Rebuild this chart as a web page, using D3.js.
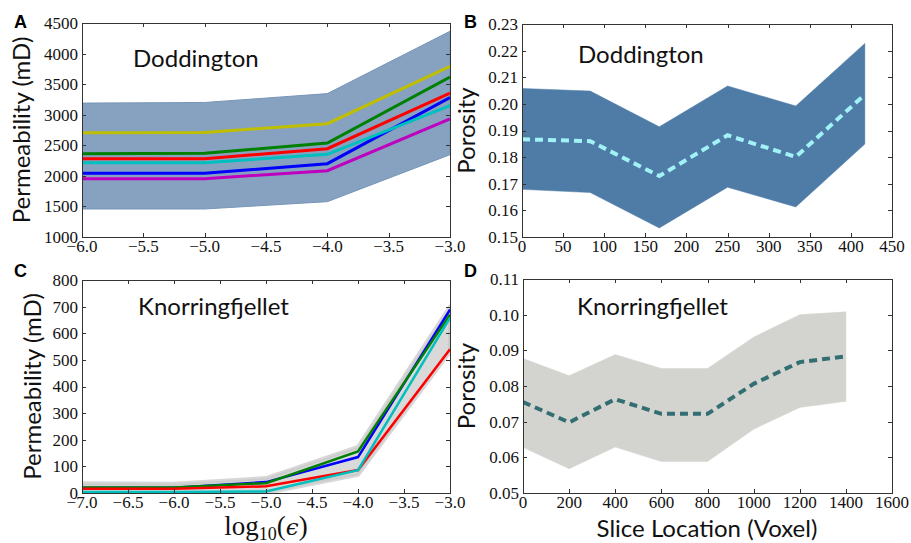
<!DOCTYPE html>
<html>
<head>
<meta charset="utf-8">
<script src="https://cdn.jsdelivr.net/npm/d3@7"></script>
<style>
  html, body { margin: 0; padding: 0; background: #fff; }
  svg { display: block; }
</style>
</head>
<body>
<svg id="chart" width="911" height="543"></svg>
<script>
// ---------- DATA ----------
// Panel A: Doddington permeability vs log10(eps)
const epsDodd = [-6, -5, -4, -3];
const doddUpper   = [3190, 3200, 3345, 4365];
const doddLower   = [1458, 1458, 1578, 2346];
const doddBlue    = [2041, 2041, 2199, 3279];
const doddGreen   = [2363, 2368, 2537, 3617];
const doddRed     = [2281, 2281, 2444, 3355];
const doddCyan    = [2215, 2215, 2352, 3148];
const doddMagenta = [1954, 1954, 2085, 2930];
const doddYellow  = [2706, 2711, 2853, 3791];

// Panel B: Doddington porosity vs slice
const sliceDodd    = [0, 83, 167, 250, 333, 417];
const porDoddMean  = [0.1867, 0.1860, 0.1729, 0.1882, 0.1801, 0.2035];
const porDoddUpper = [0.2058, 0.2048, 0.1914, 0.2067, 0.1992, 0.2227];
const porDoddLower = [0.1679, 0.1667, 0.1534, 0.1687, 0.1613, 0.1849];

// Panel C: Knorringfjellet permeability vs log10(eps)
const epsKnor   = [-7, -6, -5, -4, -3];
const knorUpper = [37, 35, 56, 173, 700];
const knorLower = [0, 0, 0, 68, 531];
const knorBlue  = [20, 20, 41, 135, 689];
const knorGreen = [21, 21, 37, 156, 670];
const knorRed   = [16, 16, 25, 86, 540];
const knorCyan  = [4, 4, 6, 86, 658];

// Panel D: Knorringfjellet porosity vs slice
const sliceKnor    = [0, 200, 400, 600, 800, 1000, 1200, 1400];
const porKnorMean  = [0.0755, 0.0698, 0.0763, 0.0722, 0.0722, 0.0806, 0.0867, 0.0883];
const porKnorUpper = [0.0877, 0.0829, 0.0888, 0.0849, 0.0849, 0.0937, 0.1000, 0.1008];
const porKnorLower = [0.0628, 0.0568, 0.0629, 0.0588, 0.0588, 0.0679, 0.0740, 0.0757];

// Tick values
const ticksAx = [-6.0, -5.5, -5.0, -4.5, -4.0, -3.5, -3.0];
const ticksAy = [1000, 1500, 2000, 2500, 3000, 3500, 4000, 4500];
const ticksBx = [0, 50, 100, 150, 200, 250, 300, 350, 400, 450];
const ticksBy = [0.15, 0.16, 0.17, 0.18, 0.19, 0.20, 0.21, 0.22, 0.23];
const ticksCx = [-7.0, -6.5, -6.0, -5.5, -5.0, -4.5, -4.0, -3.5, -3.0];
const ticksCy = [0, 100, 200, 300, 400, 500, 600, 700, 800];
const ticksDx = [0, 200, 400, 600, 800, 1000, 1200, 1400, 1600];
const ticksDy = [0.05, 0.06, 0.07, 0.08, 0.09, 0.10, 0.11];

// ---------- DRAWING ----------
const svg = d3.select("#chart");
const SERIF = "'Liberation Serif', 'DejaVu Serif', serif";
const SANS = "Lato, 'Open Sans', sans-serif";
const minus = s => s.replace("-", "\u2212");

function panel(cfg) {
  const x = d3.scaleLinear().domain(cfg.xDomain).range([cfg.left, cfg.right]);
  const y = d3.scaleLinear().domain(cfg.yDomain).range([cfg.bottom, cfg.top]);
  const g = svg.append("g");
  const clipId = "clip" + cfg.id;
  svg.append("clipPath").attr("id", clipId).append("rect")
    .attr("x", cfg.left).attr("y", cfg.top)
    .attr("width", cfg.right - cfg.left).attr("height", cfg.bottom - cfg.top);
  const plot = g.append("g").attr("clip-path", `url(#${clipId})`);

  // band
  const area = d3.area()
    .x((d, i) => x(cfg.xs[i]))
    .y0((d, i) => y(cfg.lower[i]))
    .y1((d, i) => y(cfg.upper[i]));
  plot.append("path").datum(cfg.xs)
    .attr("d", area)
    .attr("fill", cfg.bandFill)
    .attr("stroke", cfg.bandStroke)
    .attr("stroke-width", cfg.bandStrokeWidth)
    .attr("stroke-linejoin", "round")
    .attr("stroke-opacity", cfg.bandStrokeOpacity || 1);

  const line = d3.line().x((d, i) => x(cfg.xs[i])).y(d => y(d));
  cfg.lines.forEach(l => {
    plot.append("path").datum(l.values)
      .attr("d", line)
      .attr("fill", "none")
      .attr("stroke", l.color)
      .attr("stroke-width", l.width)
      .attr("stroke-dasharray", l.dash || null)
      .attr("stroke-linejoin", "miter");
  });

  // ticks (inward on all sides)
  const tl = 4;
  const tickG = g.append("g").attr("stroke", "#333").attr("stroke-width", 1);
  cfg.xTicks.forEach(t => {
    const px = Math.round(x(t)) + 0.5;
    tickG.append("line").attr("x1", px).attr("x2", px).attr("y1", cfg.bottom).attr("y2", cfg.bottom - tl);
    tickG.append("line").attr("x1", px).attr("x2", px).attr("y1", cfg.top).attr("y2", cfg.top + tl);
  });
  cfg.yTicks.forEach(t => {
    const py = Math.round(y(t)) + 0.5;
    tickG.append("line").attr("x1", cfg.left).attr("x2", cfg.left + tl).attr("y1", py).attr("y2", py);
    tickG.append("line").attr("x1", cfg.right).attr("x2", cfg.right - tl).attr("y1", py).attr("y2", py);
  });

  // frame
  g.append("rect")
    .attr("x", cfg.left + 0.5).attr("y", cfg.top + 0.5)
    .attr("width", cfg.right - cfg.left).attr("height", cfg.bottom - cfg.top)
    .attr("fill", "none").attr("stroke", "#333").attr("stroke-width", 1);

  // tick labels
  cfg.xTicks.forEach(t => {
    g.append("text").attr("x", x(t)).attr("y", cfg.bottom + 15)
      .attr("text-anchor", "middle")
      .style("font-family", SERIF).style("font-size", "17px").attr("fill", "#111")
      .text(cfg.xFmt(t));
  });
  cfg.yTicks.forEach(t => {
    g.append("text").attr("x", cfg.left - 4).attr("y", y(t)).attr("dy", "0.35em")
      .attr("text-anchor", "end")
      .style("font-family", SERIF).style("font-size", "17px").attr("fill", "#111")
      .text(cfg.yFmt(t));
  });

  // y label
  g.append("text")
    .attr("transform", `translate(${cfg.yLabelX},${(cfg.top + cfg.bottom) / 2}) rotate(-90)`)
    .attr("text-anchor", "middle")
    .style("font-family", SANS).style("font-size", "24px").attr("fill", "#111")
    .text(cfg.yLabel);

  // title
  g.append("text").attr("x", cfg.titleX).attr("y", cfg.titleY)
    .style("font-family", SANS).style("font-size", "24px").attr("fill", "#111")
    .text(cfg.title);

  // panel letter
  g.append("text").attr("x", cfg.letterX).attr("y", cfg.letterY)
    .style("font-family", "'Liberation Sans', Arial, sans-serif")
    .style("font-size", "18px").style("font-weight", "bold").attr("fill", "#000")
    .text(cfg.letter);

  return { x, y, g };
}

const fmt1 = t => minus(d3.format(".1f")(t));
const fmtInt = t => d3.format("d")(t);
const fmt2 = t => d3.format(".2f")(t);

// Panel A
panel({
  id: "A", left: 82, right: 450, top: 23, bottom: 237,
  xDomain: [-6, -3], yDomain: [1000, 4500],
  xs: epsDodd, upper: doddUpper, lower: doddLower,
  bandFill: "#86a2c0", bandStroke: "#7896b8", bandStrokeWidth: 1,
  lines: [
    { values: doddBlue, color: "#0000ff", width: 3 },
    { values: doddGreen, color: "#008000", width: 3 },
    { values: doddRed, color: "#ff0000", width: 3 },
    { values: doddCyan, color: "#00bfbf", width: 3 },
    { values: doddMagenta, color: "#bf00bf", width: 3 },
    { values: doddYellow, color: "#bfbf00", width: 3 }
  ],
  xTicks: ticksAx, yTicks: ticksAy, xFmt: fmt1, yFmt: fmtInt,
  yLabel: "Permeability (mD)", yLabelX: 30,
  title: "Doddington", titleX: 133, titleY: 67,
  letter: "A", letterX: 14, letterY: 28
});

// Panel B
panel({
  id: "B", left: 522, right: 892, top: 24, bottom: 237,
  xDomain: [0, 450], yDomain: [0.15, 0.23],
  xs: sliceDodd, upper: porDoddUpper, lower: porDoddLower,
  bandFill: "#4f7ca7", bandStroke: "#4f7ca7", bandStrokeWidth: 0.5,
  lines: [
    { values: porDoddMean, color: "#a0f2f6", width: 4, dash: "8,5" }
  ],
  xTicks: ticksBx, yTicks: ticksBy, xFmt: fmtInt, yFmt: fmt2,
  yLabel: "Porosity", yLabelX: 475,
  title: "Doddington", titleX: 578, titleY: 63,
  letter: "B", letterX: 464, letterY: 28
});

// Panel C
panel({
  id: "C", left: 82, right: 450, top: 280, bottom: 493,
  xDomain: [-7, -3], yDomain: [0, 800],
  xs: epsKnor, upper: knorUpper, lower: knorLower,
  bandFill: "#d9d9d9", bandStroke: "#c6c6c6", bandStrokeWidth: 4, bandStrokeOpacity: 0.7,
  lines: [
    { values: knorBlue, color: "#0000ff", width: 2.5 },
    { values: knorGreen, color: "#008000", width: 2.5 },
    { values: knorRed, color: "#ff0000", width: 2.5 },
    { values: knorCyan, color: "#00bfbf", width: 2.5 }
  ],
  xTicks: ticksCx, yTicks: ticksCy, xFmt: fmt1, yFmt: fmtInt,
  yLabel: "Permeability (mD)", yLabelX: 41,
  title: "Knorringfjellet", titleX: 138, titleY: 315,
  letter: "C", letterX: 14, letterY: 277
});

// Panel D
panel({
  id: "D", left: 523, right: 892, top: 279, bottom: 493,
  xDomain: [0, 1600], yDomain: [0.05, 0.11],
  xs: sliceKnor, upper: porKnorUpper, lower: porKnorLower,
  bandFill: "#d3d3cf", bandStroke: "#d3d3cf", bandStrokeWidth: 0.5,
  lines: [
    { values: porKnorMean, color: "#336e73", width: 4, dash: "8,5" }
  ],
  xTicks: ticksDx, yTicks: ticksDy, xFmt: fmtInt, yFmt: fmt2,
  yLabel: "Porosity", yLabelX: 475,
  title: "Knorringfjellet", titleX: 577, titleY: 315,
  letter: "D", letterX: 464, letterY: 277
});

// x-axis labels
svg.append("text").attr("x", 707).attr("y", 537)
  .attr("text-anchor", "middle")
  .style("font-family", SANS).style("font-size", "24px").attr("fill", "#111")
  .text("Slice Location (Voxel)");

const lg = svg.append("text").attr("x", 266).attr("y", 535)
  .attr("text-anchor", "middle")
  .style("font-family", SERIF).style("font-size", "27px").attr("fill", "#111");
lg.append("tspan").text("log");
lg.append("tspan").attr("dy", 5).style("font-size", "18px").text("10");
lg.append("tspan").attr("dy", -5).text("(");
lg.append("tspan").style("font-style", "italic").style("font-family", "'DejaVu Serif', serif").style("font-size", "23px").text("\u03F5");
lg.append("tspan").text(")");
</script>
</body>
</html>
